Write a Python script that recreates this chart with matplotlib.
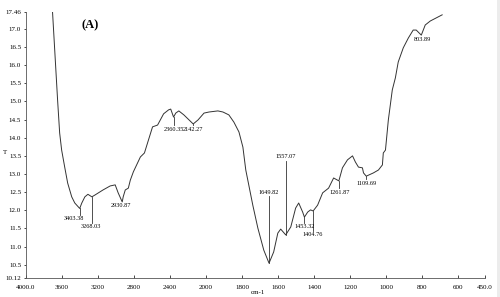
import numpy as np
import matplotlib
matplotlib.use("Agg")
import matplotlib.pyplot as plt

# FTIR spectrum (wavenumber cm-1, %T)
wavenumber = [3705, 3649, 3626, 3604, 3570, 3537, 3492, 3458, 3403.38, 3380,
              3346, 3312, 3268.03, 3234, 3144, 3065, 3009, 2976, 2930.87, 2920,
              2897, 2863, 2841, 2807, 2729, 2684, 2594, 2538, 2471, 2415,
              2392, 2360.35, 2336, 2302, 2246, 2142.27, 2089, 2022, 1983, 1934,
              1906, 1873, 1845, 1817, 1795, 1779, 1740, 1712, 1679, 1649.82,
              1624, 1601, 1585, 1557.07, 1529, 1502, 1485, 1463, 1453.32, 1435,
              1419, 1404.76, 1380, 1352, 1319, 1291, 1261.87, 1242, 1214, 1186,
              1170, 1153, 1131, 1125, 1109.69, 1070, 1042, 1020, 1015, 1003,
              987, 965, 948, 932, 904, 876, 849, 832, 803.89, 782,
              754, 688]
transmittance = [17.46, 15.04, 14.13, 13.66, 13.19, 12.75, 12.37, 12.20, 12.05, 12.20,
                 12.37, 12.44, 12.37, 12.42, 12.56, 12.67, 12.70, 12.48, 12.23, 12.37,
                 12.56, 12.61, 12.83, 13.06, 13.47, 13.58, 14.30, 14.35, 14.66, 14.77,
                 14.79, 14.57, 14.68, 14.74, 14.63, 14.38, 14.49, 14.68, 14.71, 14.74,
                 14.71, 14.63, 14.43, 14.16, 13.74, 13.11, 12.14, 11.51, 10.90, 10.54,
                 10.85, 11.37, 11.48, 11.32, 11.54, 12.06, 12.20, 11.95, 11.81, 11.95,
                 12.01, 11.98, 12.14, 12.48, 12.61, 12.89, 12.81, 13.17, 13.39, 13.50,
                 13.33, 13.19, 13.17, 13.03, 12.94, 13.03, 13.11, 13.25, 13.58, 13.66,
                 14.49, 15.32, 15.65, 16.09, 16.48, 16.75, 16.97, 16.97, 16.83, 17.11,
                 17.22, 17.39]

# labelled peaks and where their labels sit
peaks = [3403.38, 3268.03, 2930.87, 2360.35, 2142.27, 1649.82, 1557.07,
         1453.32, 1404.76, 1261.87, 1109.69, 803.89]
label_x = [3470, 3278, 2941, 2360, 2142, 1649.82, 1557.07, 1450, 1405, 1255, 1110, 798]
label_y = [11.76, 11.54, 12.12, 14.24, 14.24, 12.50, 13.47, 11.54, 11.34, 12.50, 12.75, 16.72]

xticks = [4000, 3600, 3200, 2800, 2400, 2000, 1800, 1600, 1400, 1200, 1000, 800, 600, 450]
xticklabels = ["4000.0", "3600", "3200", "2800", "2400", "2000", "1800", "1600",
               "1400", "1200", "1000", "800", "600", "450.0"]
yticks = [10.12, 10.5, 11.0, 11.5, 12.0, 12.5, 13.0, 13.5, 14.0, 14.5, 15.0,
          15.5, 16.0, 16.5, 17.0, 17.46]


# scale halves above 2000 cm-1
def fwd(x):
    x = np.asarray(x, dtype=float)
    return np.where(x <= 2000, x, 2000 + (x - 2000) / 2)


def inv(u):
    u = np.asarray(u, dtype=float)
    return np.where(u <= 2000, u, 2000 + (u - 2000) * 2)


serif = "Liberation Serif"
fig = plt.figure(figsize=(5, 2.97), dpi=100)
ax = fig.add_axes([0.052, 0.0626, 0.918, 0.896])
ax.set_xscale("function", functions=(fwd, inv))
ax.plot(wavenumber, transmittance, color="#333333", lw=0.7)
ax.set_xlim(4000, 450)
ax.set_ylim(10.12, 17.46)

for p, lx, ly in zip(peaks, label_x, label_y):
    py = np.interp(p, wavenumber[::-1], transmittance[::-1])
    if ly > py:
        ax.plot([p, p], [py, ly - 0.12], color="#333333", lw=0.6)
    else:
        ax.plot([p, p], [py, ly + 0.1], color="#333333", lw=0.6)
    ax.text(lx, ly, "%.2f" % p, fontsize=4.5, family=serif, ha="center", va="center")

ax.set_xticks(xticks)
ax.set_xticklabels(xticklabels)
ax.set_yticks(yticks)
ax.set_yticklabels(["%.2f" % v if v in (10.12, 17.46) else "%.1f" % v for v in yticks])
ax.minorticks_off()
ax.tick_params(axis="x", direction="in", length=2, width=0.5, labelsize=5, pad=5)
ax.tick_params(axis="y", direction="out", length=1.5, width=0.5, labelsize=5, pad=2)
for lab in ax.get_xticklabels() + ax.get_yticklabels():
    lab.set_family(serif)
for s in ["top", "right"]:
    ax.spines[s].set_visible(False)
for s in ["left", "bottom"]:
    ax.spines[s].set_linewidth(0.6)
    ax.spines[s].set_color("#555555")

ax.text(0.12, 0.95, "(A)", transform=ax.transAxes, fontsize=9, fontweight="bold",
        family=serif, ha="left", va="center")
fig.text(0.006, 1 - 152 / 297, "T", fontsize=5, family=serif, ha="left", va="center")
fig.text(0.516, 1 - 293 / 297, "cm-1", fontsize=5, family=serif, ha="center", va="center")
fig.patches.append(plt.Rectangle((0.994, 0), 0.006, 1, transform=fig.transFigure,
                                 facecolor="#ececec", edgecolor="none"))

fig.savefig("out.png", dpi=100)
